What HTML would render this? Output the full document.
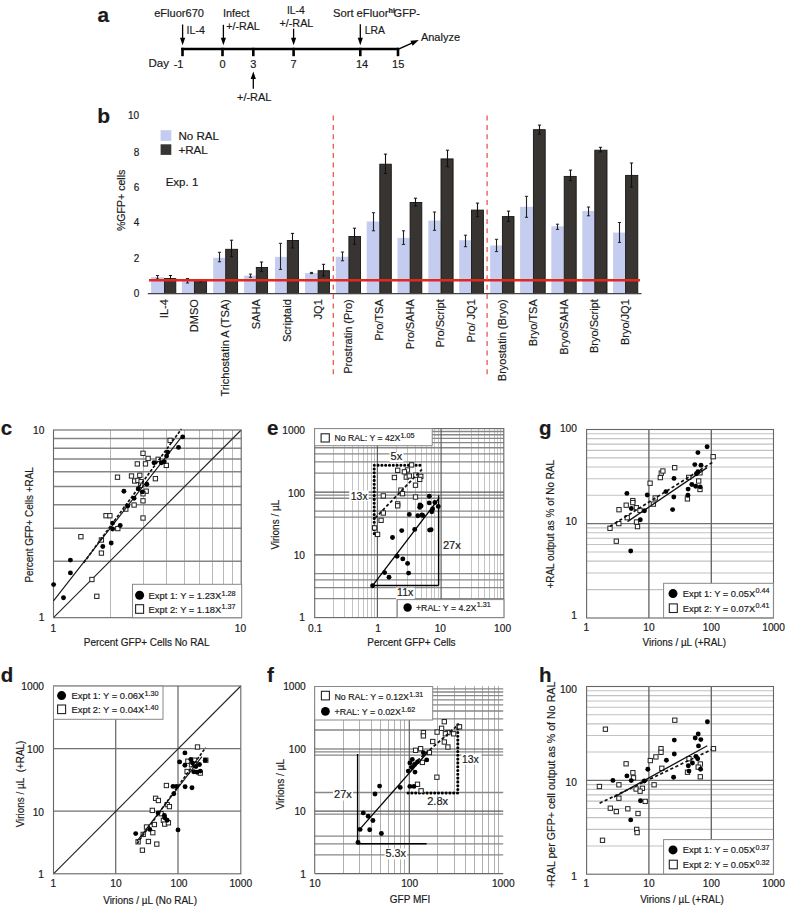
<!DOCTYPE html>
<html><head><meta charset="utf-8"><style>
html,body{margin:0;padding:0;background:#fff;}
svg{display:block;}
text{font-family:"Liberation Sans",sans-serif;fill:#1a1a1a;stroke:#1a1a1a;stroke-width:0.18px;}
</style></head><body>
<svg width="785" height="907" viewBox="0 0 785 907">
<rect x="0" y="0" width="785" height="907" fill="#fff"/>
<text x="97.4" y="21.5" font-size="20.8" font-weight="bold" fill="#000">a</text>
<line x1="181.3" y1="49" x2="399" y2="49" stroke="#000" stroke-width="2.6"/>
<line x1="182.5" y1="47.8" x2="182.5" y2="56.2" stroke="#000" stroke-width="2.6"/>
<line x1="222.5" y1="47.8" x2="222.5" y2="56.2" stroke="#000" stroke-width="2.6"/>
<line x1="253.3" y1="47.8" x2="253.3" y2="56.2" stroke="#000" stroke-width="2.6"/>
<line x1="293.6" y1="47.8" x2="293.6" y2="56.2" stroke="#000" stroke-width="2.6"/>
<line x1="360.3" y1="47.8" x2="360.3" y2="56.2" stroke="#000" stroke-width="2.6"/>
<line x1="398" y1="47.8" x2="398" y2="56.2" stroke="#000" stroke-width="2.6"/>
<line x1="182.6" y1="24.5" x2="182.6" y2="38.8" stroke="#000" stroke-width="1.3"/>
<polygon points="180,37.8 185.2,37.8 182.6,45.3" fill="#000"/>
<line x1="223.4" y1="24.8" x2="223.4" y2="38.8" stroke="#000" stroke-width="1.3"/>
<polygon points="220.8,37.8 226,37.8 223.4,45.3" fill="#000"/>
<line x1="293.6" y1="28.7" x2="293.6" y2="38.8" stroke="#000" stroke-width="1.3"/>
<polygon points="291,37.8 296.2,37.8 293.6,45.3" fill="#000"/>
<line x1="360.3" y1="24.2" x2="360.3" y2="38.8" stroke="#000" stroke-width="1.3"/>
<polygon points="357.7,37.8 362.9,37.8 360.3,45.3" fill="#000"/>
<line x1="253.3" y1="88.7" x2="253.3" y2="78" stroke="#000" stroke-width="1.3"/>
<polygon points="250.7,79 255.9,79 253.3,71.5" fill="#000"/>
<line x1="398.5" y1="49.2" x2="412.42" y2="42.89" stroke="#000" stroke-width="1.4"/>
<polygon points="412.67,45.85 410.36,40.75 418.8,40" fill="#000"/>
<text x="154.2" y="16.8" font-size="11" textLength="49.8" lengthAdjust="spacingAndGlyphs">eFluor670</text>
<text x="186.6" y="33.8" font-size="11" textLength="18.2" lengthAdjust="spacingAndGlyphs">IL-4</text>
<text x="222.9" y="16.6" font-size="11" textLength="26.6" lengthAdjust="spacingAndGlyphs">Infect</text>
<text x="226.3" y="29.6" font-size="11" textLength="33.5" lengthAdjust="spacingAndGlyphs">+/-RAL</text>
<text x="287" y="14" font-size="11" textLength="17.8" lengthAdjust="spacingAndGlyphs">IL-4</text>
<text x="279.4" y="26.8" font-size="11" textLength="34" lengthAdjust="spacingAndGlyphs">+/-RAL</text>
<text x="332.9" y="16.6" font-size="11" textLength="55.6" lengthAdjust="spacingAndGlyphs">Sort eFluor</text>
<text x="388.6" y="12.6" font-size="7.2" font-weight="bold">hi</text>
<text x="393.6" y="16.6" font-size="11" textLength="26.3" lengthAdjust="spacingAndGlyphs">GFP-</text>
<text x="364.7" y="34.1" font-size="11" textLength="20.2" lengthAdjust="spacingAndGlyphs">LRA</text>
<text x="420.9" y="41.4" font-size="11" textLength="39.2" lengthAdjust="spacingAndGlyphs">Analyze</text>
<text x="148.5" y="66.9" font-size="11" textLength="20.5" lengthAdjust="spacingAndGlyphs">Day</text>
<text x="178.6" y="67.5" font-size="11" text-anchor="middle">-1</text>
<text x="222.5" y="67.5" font-size="11" text-anchor="middle">0</text>
<text x="253.3" y="68" font-size="11" text-anchor="middle">3</text>
<text x="293.6" y="67.5" font-size="11" text-anchor="middle">7</text>
<text x="362" y="67.5" font-size="11" text-anchor="middle">14</text>
<text x="398.2" y="67.5" font-size="11" text-anchor="middle">15</text>
<text x="237" y="100.5" font-size="11" textLength="34.4" lengthAdjust="spacingAndGlyphs">+/-RAL</text>
<text x="97.3" y="122.5" font-size="21" font-weight="bold" fill="#000">b</text>
<text x="139.2" y="297.2" font-size="10" text-anchor="end">0</text>
<text x="139.2" y="261.6" font-size="10" text-anchor="end">2</text>
<text x="139.2" y="226" font-size="10" text-anchor="end">4</text>
<text x="139.2" y="190.8" font-size="10" text-anchor="end">6</text>
<text x="139.2" y="155.7" font-size="10" text-anchor="end">8</text>
<text x="139.2" y="119.2" font-size="10" text-anchor="end">10</text>
<text x="124.6" y="200.4" font-size="10.5" text-anchor="middle" textLength="61.4" lengthAdjust="spacingAndGlyphs" transform="rotate(-90 124.6 200.4)">%GFP+ cells</text>
<rect x="151.1" y="277.1" width="13" height="16.5" fill="#c4cdf0" stroke="none" stroke-width="1"/>
<rect x="164.5" y="278.6" width="11.3" height="15" fill="#383432" stroke="#161514" stroke-width="0.9"/>
<rect x="181.9" y="281" width="12.1" height="12.6" fill="#c4cdf0" stroke="none" stroke-width="1"/>
<rect x="194.4" y="280.7" width="12.2" height="12.9" fill="#383432" stroke="#161514" stroke-width="0.9"/>
<rect x="213.2" y="257.8" width="12.1" height="35.8" fill="#c4cdf0" stroke="none" stroke-width="1"/>
<rect x="225.7" y="249.3" width="11.9" height="44.3" fill="#383432" stroke="#161514" stroke-width="0.9"/>
<rect x="244.1" y="275.7" width="11.8" height="17.9" fill="#c4cdf0" stroke="none" stroke-width="1"/>
<rect x="256.3" y="267.5" width="11.3" height="26.1" fill="#383432" stroke="#161514" stroke-width="0.9"/>
<rect x="275" y="256.9" width="11.9" height="36.7" fill="#c4cdf0" stroke="none" stroke-width="1"/>
<rect x="287.3" y="240.5" width="11.2" height="53.1" fill="#383432" stroke="#161514" stroke-width="0.9"/>
<rect x="305" y="273.1" width="12.7" height="20.5" fill="#c4cdf0" stroke="none" stroke-width="1"/>
<rect x="318.1" y="270.7" width="11.3" height="22.9" fill="#383432" stroke="#161514" stroke-width="0.9"/>
<rect x="335.8" y="256.8" width="12.7" height="36.8" fill="#c4cdf0" stroke="none" stroke-width="1"/>
<rect x="348.9" y="236.5" width="11.6" height="57.1" fill="#383432" stroke="#161514" stroke-width="0.9"/>
<rect x="366.7" y="221.5" width="12.7" height="72.1" fill="#c4cdf0" stroke="none" stroke-width="1"/>
<rect x="379.8" y="164.2" width="11.5" height="129.4" fill="#383432" stroke="#161514" stroke-width="0.9"/>
<rect x="397.5" y="237.9" width="12.2" height="55.7" fill="#c4cdf0" stroke="none" stroke-width="1"/>
<rect x="410.1" y="202.5" width="11.7" height="91.1" fill="#383432" stroke="#161514" stroke-width="0.9"/>
<rect x="428.3" y="220.6" width="12.3" height="73" fill="#c4cdf0" stroke="none" stroke-width="1"/>
<rect x="441" y="158.9" width="12.1" height="134.7" fill="#383432" stroke="#161514" stroke-width="0.9"/>
<rect x="459.2" y="240.2" width="11.9" height="53.4" fill="#c4cdf0" stroke="none" stroke-width="1"/>
<rect x="471.5" y="210.1" width="11.9" height="83.5" fill="#383432" stroke="#161514" stroke-width="0.9"/>
<rect x="490.2" y="245.5" width="11.8" height="48.1" fill="#c4cdf0" stroke="none" stroke-width="1"/>
<rect x="502.4" y="216.6" width="11.6" height="77" fill="#383432" stroke="#161514" stroke-width="0.9"/>
<rect x="520.1" y="206.8" width="12.9" height="86.8" fill="#c4cdf0" stroke="none" stroke-width="1"/>
<rect x="533.4" y="129.7" width="11.8" height="163.9" fill="#383432" stroke="#161514" stroke-width="0.9"/>
<rect x="551.3" y="226.3" width="12.5" height="67.3" fill="#c4cdf0" stroke="none" stroke-width="1"/>
<rect x="564.2" y="176.4" width="12" height="117.2" fill="#383432" stroke="#161514" stroke-width="0.9"/>
<rect x="582.3" y="211" width="12.1" height="82.6" fill="#c4cdf0" stroke="none" stroke-width="1"/>
<rect x="594.8" y="150.2" width="12.2" height="143.4" fill="#383432" stroke="#161514" stroke-width="0.9"/>
<rect x="613.1" y="232.6" width="12.1" height="61" fill="#c4cdf0" stroke="none" stroke-width="1"/>
<rect x="625.6" y="175.4" width="12.2" height="118.2" fill="#383432" stroke="#161514" stroke-width="0.9"/>
<line x1="157.5" y1="275.5" x2="157.5" y2="279" stroke="#222" stroke-width="1.1"/>
<line x1="155.9" y1="275.5" x2="159.1" y2="275.5" stroke="#222" stroke-width="1"/>
<line x1="155.9" y1="279" x2="159.1" y2="279" stroke="#222" stroke-width="1"/>
<line x1="170.5" y1="275.5" x2="170.5" y2="280" stroke="#111" stroke-width="1.1"/>
<line x1="168.9" y1="275.5" x2="172.1" y2="275.5" stroke="#111" stroke-width="1"/>
<line x1="168.9" y1="280" x2="172.1" y2="280" stroke="#111" stroke-width="1"/>
<line x1="187.5" y1="278.5" x2="187.5" y2="283" stroke="#222" stroke-width="1.1"/>
<line x1="185.9" y1="278.5" x2="189.1" y2="278.5" stroke="#222" stroke-width="1"/>
<line x1="185.9" y1="283" x2="189.1" y2="283" stroke="#222" stroke-width="1"/>
<line x1="200.5" y1="279.5" x2="200.5" y2="282" stroke="#111" stroke-width="1.1"/>
<line x1="198.9" y1="279.5" x2="202.1" y2="279.5" stroke="#111" stroke-width="1"/>
<line x1="198.9" y1="282" x2="202.1" y2="282" stroke="#111" stroke-width="1"/>
<line x1="219.5" y1="252.3" x2="219.5" y2="261.8" stroke="#222" stroke-width="1.1"/>
<line x1="217.9" y1="252.3" x2="221.1" y2="252.3" stroke="#222" stroke-width="1"/>
<line x1="217.9" y1="261.8" x2="221.1" y2="261.8" stroke="#222" stroke-width="1"/>
<line x1="231.5" y1="240.2" x2="231.5" y2="256.7" stroke="#111" stroke-width="1.1"/>
<line x1="229.9" y1="240.2" x2="233.1" y2="240.2" stroke="#111" stroke-width="1"/>
<line x1="229.9" y1="256.7" x2="233.1" y2="256.7" stroke="#111" stroke-width="1"/>
<line x1="250.5" y1="274.1" x2="250.5" y2="277.3" stroke="#222" stroke-width="1.1"/>
<line x1="248.9" y1="274.1" x2="252.1" y2="274.1" stroke="#222" stroke-width="1"/>
<line x1="248.9" y1="277.3" x2="252.1" y2="277.3" stroke="#222" stroke-width="1"/>
<line x1="261.5" y1="262" x2="261.5" y2="271.6" stroke="#111" stroke-width="1.1"/>
<line x1="259.9" y1="262" x2="263.1" y2="262" stroke="#111" stroke-width="1"/>
<line x1="259.9" y1="271.6" x2="263.1" y2="271.6" stroke="#111" stroke-width="1"/>
<line x1="280.5" y1="243.3" x2="280.5" y2="269.4" stroke="#222" stroke-width="1.1"/>
<line x1="278.9" y1="243.3" x2="282.1" y2="243.3" stroke="#222" stroke-width="1"/>
<line x1="278.9" y1="269.4" x2="282.1" y2="269.4" stroke="#222" stroke-width="1"/>
<line x1="292.5" y1="233.4" x2="292.5" y2="248" stroke="#111" stroke-width="1.1"/>
<line x1="290.9" y1="233.4" x2="294.1" y2="233.4" stroke="#111" stroke-width="1"/>
<line x1="290.9" y1="248" x2="294.1" y2="248" stroke="#111" stroke-width="1"/>
<line x1="311.5" y1="272.4" x2="311.5" y2="273.6" stroke="#222" stroke-width="1.1"/>
<line x1="309.9" y1="272.4" x2="313.1" y2="272.4" stroke="#222" stroke-width="1"/>
<line x1="309.9" y1="273.6" x2="313.1" y2="273.6" stroke="#222" stroke-width="1"/>
<line x1="323.5" y1="264.3" x2="323.5" y2="276" stroke="#111" stroke-width="1.1"/>
<line x1="321.9" y1="264.3" x2="325.1" y2="264.3" stroke="#111" stroke-width="1"/>
<line x1="321.9" y1="276" x2="325.1" y2="276" stroke="#111" stroke-width="1"/>
<line x1="342.5" y1="252" x2="342.5" y2="260.8" stroke="#222" stroke-width="1.1"/>
<line x1="340.9" y1="252" x2="344.1" y2="252" stroke="#222" stroke-width="1"/>
<line x1="340.9" y1="260.8" x2="344.1" y2="260.8" stroke="#222" stroke-width="1"/>
<line x1="354.5" y1="228.2" x2="354.5" y2="244.4" stroke="#111" stroke-width="1.1"/>
<line x1="352.9" y1="228.2" x2="356.1" y2="228.2" stroke="#111" stroke-width="1"/>
<line x1="352.9" y1="244.4" x2="356.1" y2="244.4" stroke="#111" stroke-width="1"/>
<line x1="373.5" y1="212.7" x2="373.5" y2="230.8" stroke="#222" stroke-width="1.1"/>
<line x1="371.9" y1="212.7" x2="375.1" y2="212.7" stroke="#222" stroke-width="1"/>
<line x1="371.9" y1="230.8" x2="375.1" y2="230.8" stroke="#222" stroke-width="1"/>
<line x1="385.5" y1="154.1" x2="385.5" y2="173.5" stroke="#111" stroke-width="1.1"/>
<line x1="383.9" y1="154.1" x2="387.1" y2="154.1" stroke="#111" stroke-width="1"/>
<line x1="383.9" y1="173.5" x2="387.1" y2="173.5" stroke="#111" stroke-width="1"/>
<line x1="403.5" y1="230.8" x2="403.5" y2="244.4" stroke="#222" stroke-width="1.1"/>
<line x1="401.9" y1="230.8" x2="405.1" y2="230.8" stroke="#222" stroke-width="1"/>
<line x1="401.9" y1="244.4" x2="405.1" y2="244.4" stroke="#222" stroke-width="1"/>
<line x1="415.5" y1="198.2" x2="415.5" y2="206.1" stroke="#111" stroke-width="1.1"/>
<line x1="413.9" y1="198.2" x2="417.1" y2="198.2" stroke="#111" stroke-width="1"/>
<line x1="413.9" y1="206.1" x2="417.1" y2="206.1" stroke="#111" stroke-width="1"/>
<line x1="434.5" y1="212" x2="434.5" y2="230.3" stroke="#222" stroke-width="1.1"/>
<line x1="432.9" y1="212" x2="436.1" y2="212" stroke="#222" stroke-width="1"/>
<line x1="432.9" y1="230.3" x2="436.1" y2="230.3" stroke="#222" stroke-width="1"/>
<line x1="447.5" y1="150.2" x2="447.5" y2="166.8" stroke="#111" stroke-width="1.1"/>
<line x1="445.9" y1="150.2" x2="449.1" y2="150.2" stroke="#111" stroke-width="1"/>
<line x1="445.9" y1="166.8" x2="449.1" y2="166.8" stroke="#111" stroke-width="1"/>
<line x1="465.5" y1="235.2" x2="465.5" y2="246.7" stroke="#222" stroke-width="1.1"/>
<line x1="463.9" y1="235.2" x2="467.1" y2="235.2" stroke="#222" stroke-width="1"/>
<line x1="463.9" y1="246.7" x2="467.1" y2="246.7" stroke="#222" stroke-width="1"/>
<line x1="477.5" y1="203.1" x2="477.5" y2="216.7" stroke="#111" stroke-width="1.1"/>
<line x1="475.9" y1="203.1" x2="479.1" y2="203.1" stroke="#111" stroke-width="1"/>
<line x1="475.9" y1="216.7" x2="479.1" y2="216.7" stroke="#111" stroke-width="1"/>
<line x1="496.5" y1="239.3" x2="496.5" y2="251.6" stroke="#222" stroke-width="1.1"/>
<line x1="494.9" y1="239.3" x2="498.1" y2="239.3" stroke="#222" stroke-width="1"/>
<line x1="494.9" y1="251.6" x2="498.1" y2="251.6" stroke="#222" stroke-width="1"/>
<line x1="508.5" y1="211.1" x2="508.5" y2="221.5" stroke="#111" stroke-width="1.1"/>
<line x1="506.9" y1="211.1" x2="510.1" y2="211.1" stroke="#111" stroke-width="1"/>
<line x1="506.9" y1="221.5" x2="510.1" y2="221.5" stroke="#111" stroke-width="1"/>
<line x1="526.5" y1="196.3" x2="526.5" y2="217.3" stroke="#222" stroke-width="1.1"/>
<line x1="524.9" y1="196.3" x2="528.1" y2="196.3" stroke="#222" stroke-width="1"/>
<line x1="524.9" y1="217.3" x2="528.1" y2="217.3" stroke="#222" stroke-width="1"/>
<line x1="539.5" y1="125.1" x2="539.5" y2="134.1" stroke="#111" stroke-width="1.1"/>
<line x1="537.9" y1="125.1" x2="541.1" y2="125.1" stroke="#111" stroke-width="1"/>
<line x1="537.9" y1="134.1" x2="541.1" y2="134.1" stroke="#111" stroke-width="1"/>
<line x1="557.5" y1="224.2" x2="557.5" y2="229.4" stroke="#222" stroke-width="1.1"/>
<line x1="555.9" y1="224.2" x2="559.1" y2="224.2" stroke="#222" stroke-width="1"/>
<line x1="555.9" y1="229.4" x2="559.1" y2="229.4" stroke="#222" stroke-width="1"/>
<line x1="570.5" y1="170.1" x2="570.5" y2="180.6" stroke="#111" stroke-width="1.1"/>
<line x1="568.9" y1="170.1" x2="572.1" y2="170.1" stroke="#111" stroke-width="1"/>
<line x1="568.9" y1="180.6" x2="572.1" y2="180.6" stroke="#111" stroke-width="1"/>
<line x1="588.5" y1="207" x2="588.5" y2="215.8" stroke="#222" stroke-width="1.1"/>
<line x1="586.9" y1="207" x2="590.1" y2="207" stroke="#222" stroke-width="1"/>
<line x1="586.9" y1="215.8" x2="590.1" y2="215.8" stroke="#222" stroke-width="1"/>
<line x1="600.5" y1="147.3" x2="600.5" y2="151.9" stroke="#111" stroke-width="1.1"/>
<line x1="598.9" y1="147.3" x2="602.1" y2="147.3" stroke="#111" stroke-width="1"/>
<line x1="598.9" y1="151.9" x2="602.1" y2="151.9" stroke="#111" stroke-width="1"/>
<line x1="619.5" y1="222.5" x2="619.5" y2="242.4" stroke="#222" stroke-width="1.1"/>
<line x1="617.9" y1="222.5" x2="621.1" y2="222.5" stroke="#222" stroke-width="1"/>
<line x1="617.9" y1="242.4" x2="621.1" y2="242.4" stroke="#222" stroke-width="1"/>
<line x1="631.5" y1="163" x2="631.5" y2="187.1" stroke="#111" stroke-width="1.1"/>
<line x1="629.9" y1="163" x2="633.1" y2="163" stroke="#111" stroke-width="1"/>
<line x1="629.9" y1="187.1" x2="633.1" y2="187.1" stroke="#111" stroke-width="1"/>
<line x1="147.8" y1="293.6" x2="641.5" y2="293.6" stroke="#444" stroke-width="1.1"/>
<line x1="149" y1="280.3" x2="640" y2="280.3" stroke="#e0291c" stroke-width="2.4"/>
<line x1="333.3" y1="115.5" x2="333.3" y2="378" stroke="#ea5a4c" stroke-width="1.3" stroke-dasharray="5 4.4"/>
<line x1="487.1" y1="115.5" x2="487.1" y2="378" stroke="#ea5a4c" stroke-width="1.3" stroke-dasharray="5 4.4"/>
<rect x="160.6" y="130.2" width="10.7" height="10.7" fill="#c4cdf0" stroke="none" stroke-width="1"/>
<rect x="160.6" y="144.3" width="10.7" height="10.6" fill="#383432" stroke="none" stroke-width="1"/>
<text x="178.4" y="139.6" font-size="11.3" textLength="40.6" lengthAdjust="spacingAndGlyphs">No RAL</text>
<text x="178.4" y="153.6" font-size="11.3" textLength="29.4" lengthAdjust="spacingAndGlyphs">+RAL</text>
<text x="165.7" y="186.4" font-size="11.3" textLength="32.6" lengthAdjust="spacingAndGlyphs">Exp. 1</text>
<text x="168" y="299.2" font-size="11" text-anchor="end" transform="rotate(-90 168 299.2)">IL-4</text>
<text x="197.9" y="299.2" font-size="11" text-anchor="end" transform="rotate(-90 197.9 299.2)">DMSO</text>
<text x="229.2" y="299.2" font-size="11" text-anchor="end" transform="rotate(-90 229.2 299.2)">Trichostatin A (TSA)</text>
<text x="259.8" y="299.2" font-size="11" text-anchor="end" transform="rotate(-90 259.8 299.2)">SAHA</text>
<text x="290.8" y="299.2" font-size="11" text-anchor="end" transform="rotate(-90 290.8 299.2)">Scriptaid</text>
<text x="321.6" y="299.2" font-size="11" text-anchor="end" transform="rotate(-90 321.6 299.2)">JQ1</text>
<text x="352.4" y="299.2" font-size="11" text-anchor="end" transform="rotate(-90 352.4 299.2)">Prostratin (Pro)</text>
<text x="383.3" y="299.2" font-size="11" text-anchor="end" transform="rotate(-90 383.3 299.2)">Pro/TSA</text>
<text x="413.6" y="299.2" font-size="11" text-anchor="end" transform="rotate(-90 413.6 299.2)">Pro/SAHA</text>
<text x="444.5" y="299.2" font-size="11" text-anchor="end" transform="rotate(-90 444.5 299.2)">Pro/Script</text>
<text x="475" y="299.2" font-size="11" text-anchor="end" transform="rotate(-90 475 299.2)">Pro/ JQ1</text>
<text x="505.9" y="299.2" font-size="11" text-anchor="end" transform="rotate(-90 505.9 299.2)">Bryostatin (Bryo)</text>
<text x="536.9" y="299.2" font-size="11" text-anchor="end" transform="rotate(-90 536.9 299.2)">Bryo/TSA</text>
<text x="567.7" y="299.2" font-size="11" text-anchor="end" transform="rotate(-90 567.7 299.2)">Bryo/SAHA</text>
<text x="598.3" y="299.2" font-size="11" text-anchor="end" transform="rotate(-90 598.3 299.2)">Bryo/Script</text>
<text x="629.1" y="299.2" font-size="11" text-anchor="end" transform="rotate(-90 629.1 299.2)">Bryo/JQ1</text>
<line x1="110.5" y1="430" x2="110.5" y2="617.7" stroke="#b0b0b0" stroke-width="0.9"/>
<line x1="143.5" y1="430" x2="143.5" y2="617.7" stroke="#b0b0b0" stroke-width="0.9"/>
<line x1="166.5" y1="430" x2="166.5" y2="617.7" stroke="#b0b0b0" stroke-width="0.9"/>
<line x1="184.5" y1="430" x2="184.5" y2="617.7" stroke="#b0b0b0" stroke-width="0.9"/>
<line x1="199.5" y1="430" x2="199.5" y2="617.7" stroke="#b0b0b0" stroke-width="0.9"/>
<line x1="212.5" y1="430" x2="212.5" y2="617.7" stroke="#b0b0b0" stroke-width="0.9"/>
<line x1="223.5" y1="430" x2="223.5" y2="617.7" stroke="#b0b0b0" stroke-width="0.9"/>
<line x1="232.5" y1="430" x2="232.5" y2="617.7" stroke="#b0b0b0" stroke-width="0.9"/>
<line x1="53.5" y1="561.2" x2="241.2" y2="561.2" stroke="#858585" stroke-width="1.5"/>
<line x1="53.5" y1="528.14" x2="241.2" y2="528.14" stroke="#858585" stroke-width="1.5"/>
<line x1="53.5" y1="504.69" x2="241.2" y2="504.69" stroke="#858585" stroke-width="1.5"/>
<line x1="53.5" y1="486.5" x2="241.2" y2="486.5" stroke="#858585" stroke-width="1.5"/>
<line x1="53.5" y1="471.64" x2="241.2" y2="471.64" stroke="#858585" stroke-width="1.5"/>
<line x1="53.5" y1="459.08" x2="241.2" y2="459.08" stroke="#858585" stroke-width="1.5"/>
<line x1="53.5" y1="448.19" x2="241.2" y2="448.19" stroke="#858585" stroke-width="1.5"/>
<line x1="53.5" y1="438.59" x2="241.2" y2="438.59" stroke="#858585" stroke-width="1.5"/>
<line x1="53.5" y1="617.7" x2="241.2" y2="430" stroke="#222" stroke-width="1.1"/>
<rect x="53.5" y="430" width="187.7" height="187.7" fill="none" stroke="#666" stroke-width="1.1"/>
<rect x="140.85" y="451.15" width="4.3" height="4.3" fill="#fff" stroke="#222" stroke-width="1"/>
<rect x="145.95" y="456.25" width="4.3" height="4.3" fill="#fff" stroke="#222" stroke-width="1"/>
<rect x="135.15" y="461.75" width="4.3" height="4.3" fill="#fff" stroke="#222" stroke-width="1"/>
<rect x="143.35" y="461.75" width="4.3" height="4.3" fill="#fff" stroke="#222" stroke-width="1"/>
<rect x="115.35" y="475.05" width="4.3" height="4.3" fill="#fff" stroke="#222" stroke-width="1"/>
<rect x="129.35" y="473.85" width="4.3" height="4.3" fill="#fff" stroke="#222" stroke-width="1"/>
<rect x="137.65" y="473.15" width="4.3" height="4.3" fill="#fff" stroke="#222" stroke-width="1"/>
<rect x="132.55" y="478.85" width="4.3" height="4.3" fill="#fff" stroke="#222" stroke-width="1"/>
<rect x="135.75" y="478.25" width="4.3" height="4.3" fill="#fff" stroke="#222" stroke-width="1"/>
<rect x="138.95" y="479.55" width="4.3" height="4.3" fill="#fff" stroke="#222" stroke-width="1"/>
<rect x="144.05" y="489.05" width="4.3" height="4.3" fill="#fff" stroke="#222" stroke-width="1"/>
<rect x="140.85" y="491.65" width="4.3" height="4.3" fill="#fff" stroke="#222" stroke-width="1"/>
<rect x="140.85" y="498.65" width="4.3" height="4.3" fill="#fff" stroke="#222" stroke-width="1"/>
<rect x="131.95" y="502.85" width="4.3" height="4.3" fill="#fff" stroke="#222" stroke-width="1"/>
<rect x="123.65" y="506.95" width="4.3" height="4.3" fill="#fff" stroke="#222" stroke-width="1"/>
<rect x="103.85" y="513.55" width="4.3" height="4.3" fill="#fff" stroke="#222" stroke-width="1"/>
<rect x="107.75" y="513.55" width="4.3" height="4.3" fill="#fff" stroke="#222" stroke-width="1"/>
<rect x="140.85" y="515.85" width="4.3" height="4.3" fill="#fff" stroke="#222" stroke-width="1"/>
<rect x="167.95" y="438.25" width="4.3" height="4.3" fill="#fff" stroke="#222" stroke-width="1"/>
<rect x="156.05" y="457.15" width="4.3" height="4.3" fill="#fff" stroke="#222" stroke-width="1"/>
<rect x="164.15" y="463.25" width="4.3" height="4.3" fill="#fff" stroke="#222" stroke-width="1"/>
<rect x="153.25" y="476.55" width="4.3" height="4.3" fill="#fff" stroke="#222" stroke-width="1"/>
<rect x="138.55" y="483.15" width="4.3" height="4.3" fill="#fff" stroke="#222" stroke-width="1"/>
<rect x="78.75" y="534.55" width="4.3" height="4.3" fill="#fff" stroke="#222" stroke-width="1"/>
<rect x="99.25" y="537.85" width="4.3" height="4.3" fill="#fff" stroke="#222" stroke-width="1"/>
<rect x="99.25" y="550.95" width="4.3" height="4.3" fill="#fff" stroke="#222" stroke-width="1"/>
<rect x="89.75" y="577.35" width="4.3" height="4.3" fill="#fff" stroke="#222" stroke-width="1"/>
<rect x="94.65" y="594.15" width="4.3" height="4.3" fill="#fff" stroke="#222" stroke-width="1"/>
<rect x="115.65" y="526.45" width="4.3" height="4.3" fill="#fff" stroke="#222" stroke-width="1"/>
<line x1="53.5" y1="600.82" x2="182.21" y2="436.07" stroke="#111" stroke-width="1.1"/>
<line x1="83.79" y1="562.71" x2="181.37" y2="429.03" stroke="#111" stroke-width="1.7" stroke-dasharray="3 1.7"/>
<circle cx="53.6" cy="584.6" r="2.45" fill="#000"/>
<circle cx="63.5" cy="597.7" r="2.45" fill="#000"/>
<circle cx="70.4" cy="560.1" r="2.45" fill="#000"/>
<circle cx="70.4" cy="572.9" r="2.45" fill="#000"/>
<circle cx="102.8" cy="546.5" r="2.45" fill="#000"/>
<circle cx="111.2" cy="543" r="2.45" fill="#000"/>
<circle cx="112.6" cy="529" r="2.45" fill="#000"/>
<circle cx="112.6" cy="523.1" r="2.45" fill="#000"/>
<circle cx="120.2" cy="525.5" r="2.45" fill="#000"/>
<circle cx="123.9" cy="491.2" r="2.45" fill="#000"/>
<circle cx="127.7" cy="505.9" r="2.45" fill="#000"/>
<circle cx="134.1" cy="498.2" r="2.45" fill="#000"/>
<circle cx="138.2" cy="488.7" r="2.45" fill="#000"/>
<circle cx="142.4" cy="491.9" r="2.45" fill="#000"/>
<circle cx="146.8" cy="484.2" r="2.45" fill="#000"/>
<circle cx="154" cy="462.8" r="2.45" fill="#000"/>
<circle cx="161.3" cy="462.8" r="2.45" fill="#000"/>
<circle cx="164.1" cy="461.7" r="2.45" fill="#000"/>
<circle cx="166.6" cy="456.1" r="2.45" fill="#000"/>
<circle cx="167.7" cy="452.3" r="2.45" fill="#000"/>
<circle cx="178.5" cy="447.4" r="2.45" fill="#000"/>
<circle cx="182.7" cy="436.9" r="2.45" fill="#000"/>
<rect x="132.5" y="584.3" width="109.2" height="33.4" fill="#fff" stroke="#888" stroke-width="1"/>
<circle cx="139.6" cy="595.2" r="4.5" fill="#000"/>
<text x="148.6" y="599.1" font-size="9.2" textLength="72.7" lengthAdjust="spacingAndGlyphs">Expt 1: Y = 1.23X</text>
<text x="221.5" y="595.8" font-size="7.2" fill="#333" stroke="none">1.28</text>
<rect x="135.6" y="604.7" width="8" height="8.6" fill="#fff" stroke="#222" stroke-width="1.1"/>
<text x="148.6" y="612.7" font-size="9.2" textLength="72.7" lengthAdjust="spacingAndGlyphs">Expt 2: Y = 1.18X</text>
<text x="221.5" y="609.4" font-size="7.2" fill="#333" stroke="none">1.37</text>
<text x="0.8" y="434.8" font-size="20.5" font-weight="bold" fill="#000">c</text>
<text x="44.4" y="434.4" font-size="10.2" text-anchor="end">10</text>
<text x="44.4" y="620.8" font-size="10.2" text-anchor="end">1</text>
<text x="53.3" y="632.2" font-size="10.2" text-anchor="middle">1</text>
<text x="240.4" y="632.2" font-size="10.2" text-anchor="middle">10</text>
<text x="33.2" y="524.9" font-size="10" text-anchor="middle" textLength="115.4" lengthAdjust="spacingAndGlyphs" transform="rotate(-90 33.2 524.9)">Percent GFP+ Cells +RAL</text>
<text x="83.8" y="646.4" font-size="10" textLength="125.7" lengthAdjust="spacingAndGlyphs">Percent GFP+ Cells No RAL</text>
<line x1="115.7" y1="686" x2="115.7" y2="873.8" stroke="#707070" stroke-width="1.3"/>
<line x1="178" y1="686" x2="178" y2="873.8" stroke="#707070" stroke-width="1.3"/>
<line x1="53.5" y1="811.2" x2="240.8" y2="811.2" stroke="#707070" stroke-width="1.3"/>
<line x1="53.5" y1="748.7" x2="240.8" y2="748.7" stroke="#707070" stroke-width="1.3"/>
<line x1="53.5" y1="873.8" x2="240.8" y2="686" stroke="#222" stroke-width="1.1"/>
<rect x="53.5" y="686" width="187.3" height="187.8" fill="none" stroke="#666" stroke-width="1.1"/>
<rect x="195.35" y="744.85" width="4.3" height="4.3" fill="#fff" stroke="#222" stroke-width="1"/>
<rect x="185.75" y="759.05" width="4.3" height="4.3" fill="#fff" stroke="#222" stroke-width="1"/>
<rect x="192.35" y="758.05" width="4.3" height="4.3" fill="#fff" stroke="#222" stroke-width="1"/>
<rect x="189.35" y="762.65" width="4.3" height="4.3" fill="#fff" stroke="#222" stroke-width="1"/>
<rect x="184.95" y="769.35" width="4.3" height="4.3" fill="#fff" stroke="#222" stroke-width="1"/>
<rect x="198.15" y="770.95" width="4.3" height="4.3" fill="#fff" stroke="#222" stroke-width="1"/>
<rect x="164.25" y="783.35" width="4.3" height="4.3" fill="#fff" stroke="#222" stroke-width="1"/>
<rect x="153.45" y="796.15" width="4.3" height="4.3" fill="#fff" stroke="#222" stroke-width="1"/>
<rect x="156.25" y="798.35" width="4.3" height="4.3" fill="#fff" stroke="#222" stroke-width="1"/>
<rect x="165.05" y="802.45" width="4.3" height="4.3" fill="#fff" stroke="#222" stroke-width="1"/>
<rect x="167.25" y="804.45" width="4.3" height="4.3" fill="#fff" stroke="#222" stroke-width="1"/>
<rect x="150.15" y="808.25" width="4.3" height="4.3" fill="#fff" stroke="#222" stroke-width="1"/>
<rect x="158.95" y="811.55" width="4.3" height="4.3" fill="#fff" stroke="#222" stroke-width="1"/>
<rect x="161.25" y="818.15" width="4.3" height="4.3" fill="#fff" stroke="#222" stroke-width="1"/>
<rect x="162.55" y="821.95" width="4.3" height="4.3" fill="#fff" stroke="#222" stroke-width="1"/>
<rect x="166.25" y="820.65" width="4.3" height="4.3" fill="#fff" stroke="#222" stroke-width="1"/>
<rect x="152.25" y="822.35" width="4.3" height="4.3" fill="#fff" stroke="#222" stroke-width="1"/>
<rect x="144.35" y="824.85" width="4.3" height="4.3" fill="#fff" stroke="#222" stroke-width="1"/>
<rect x="150.65" y="830.55" width="4.3" height="4.3" fill="#fff" stroke="#222" stroke-width="1"/>
<rect x="141.05" y="832.25" width="4.3" height="4.3" fill="#fff" stroke="#222" stroke-width="1"/>
<rect x="203.65" y="758.05" width="4.3" height="4.3" fill="#fff" stroke="#222" stroke-width="1"/>
<rect x="135.95" y="839.65" width="4.3" height="4.3" fill="#fff" stroke="#222" stroke-width="1"/>
<rect x="146.25" y="839.35" width="4.3" height="4.3" fill="#fff" stroke="#222" stroke-width="1"/>
<rect x="154.65" y="841.95" width="4.3" height="4.3" fill="#fff" stroke="#222" stroke-width="1"/>
<rect x="140.25" y="848.05" width="4.3" height="4.3" fill="#fff" stroke="#222" stroke-width="1"/>
<line x1="137.03" y1="841.04" x2="201.88" y2="756.67" stroke="#111" stroke-width="1.1"/>
<line x1="137.03" y1="843.66" x2="205.59" y2="747.63" stroke="#111" stroke-width="1.6" stroke-dasharray="3 1.7"/>
<circle cx="184.9" cy="752.9" r="2.45" fill="#000"/>
<circle cx="179.6" cy="761.9" r="2.45" fill="#000"/>
<circle cx="184.9" cy="765.2" r="2.45" fill="#000"/>
<circle cx="190.9" cy="759.5" r="2.45" fill="#000"/>
<circle cx="192.5" cy="762.9" r="2.45" fill="#000"/>
<circle cx="195.9" cy="766.5" r="2.45" fill="#000"/>
<circle cx="199.5" cy="764.5" r="2.45" fill="#000"/>
<circle cx="205.3" cy="760.2" r="2.45" fill="#000"/>
<circle cx="193.7" cy="771.8" r="2.45" fill="#000"/>
<circle cx="197" cy="772.3" r="2.45" fill="#000"/>
<circle cx="200.3" cy="771.1" r="2.45" fill="#000"/>
<circle cx="173" cy="786.4" r="2.45" fill="#000"/>
<circle cx="176.3" cy="786.4" r="2.45" fill="#000"/>
<circle cx="185.1" cy="786.7" r="2.45" fill="#000"/>
<circle cx="192" cy="787.7" r="2.45" fill="#000"/>
<circle cx="173.8" cy="793.8" r="2.45" fill="#000"/>
<circle cx="158.1" cy="812.9" r="2.45" fill="#000"/>
<circle cx="164.4" cy="815.4" r="2.45" fill="#000"/>
<circle cx="164.7" cy="817.8" r="2.45" fill="#000"/>
<circle cx="167.2" cy="820.3" r="2.45" fill="#000"/>
<circle cx="178" cy="829.9" r="2.45" fill="#000"/>
<circle cx="135.7" cy="833.6" r="2.45" fill="#000"/>
<circle cx="149.8" cy="829.4" r="2.45" fill="#000"/>
<rect x="53.5" y="686.1" width="109.5" height="33.2" fill="#fff" stroke="#888" stroke-width="1"/>
<circle cx="61.6" cy="695.6" r="4.5" fill="#000"/>
<text x="71.5" y="699.4" font-size="9.2" textLength="72.8" lengthAdjust="spacingAndGlyphs">Expt 1: Y = 0.06X</text>
<text x="144.5" y="696.1" font-size="7.2" fill="#333" stroke="none">1.30</text>
<rect x="57.6" y="705" width="8" height="8.6" fill="#fff" stroke="#222" stroke-width="1.1"/>
<text x="71.5" y="713" font-size="9.2" textLength="72.8" lengthAdjust="spacingAndGlyphs">Expt 2: Y = 0.04X</text>
<text x="144.5" y="709.7" font-size="7.2" fill="#333" stroke="none">1.40</text>
<text x="0.8" y="682.3" font-size="20.5" font-weight="bold" fill="#000">d</text>
<text x="44" y="689.9" font-size="10.2" text-anchor="end">1000</text>
<text x="44" y="753.1" font-size="10.2" text-anchor="end">100</text>
<text x="44" y="815.6" font-size="10.2" text-anchor="end">10</text>
<text x="44" y="878" font-size="10.2" text-anchor="end">1</text>
<text x="53.3" y="887.3" font-size="10.2" text-anchor="middle">1</text>
<text x="116" y="887.3" font-size="10.2" text-anchor="middle">10</text>
<text x="179" y="887.3" font-size="10.2" text-anchor="middle">100</text>
<text x="240.8" y="887.3" font-size="10.2" text-anchor="middle">1000</text>
<text x="24.3" y="784" font-size="10" text-anchor="middle" textLength="86.7" lengthAdjust="spacingAndGlyphs" transform="rotate(-90 24.3 784)">Virions / µL  (+RAL)</text>
<text x="103.2" y="903.6" font-size="10" textLength="93.8" lengthAdjust="spacingAndGlyphs">Virions / µL (No RAL)</text>
<line x1="333.5" y1="428.6" x2="333.5" y2="617.6" stroke="#c4c4c4" stroke-width="1"/>
<line x1="344.5" y1="428.6" x2="344.5" y2="617.6" stroke="#c4c4c4" stroke-width="1"/>
<line x1="352.5" y1="428.6" x2="352.5" y2="617.6" stroke="#c4c4c4" stroke-width="1"/>
<line x1="358.5" y1="428.6" x2="358.5" y2="617.6" stroke="#c4c4c4" stroke-width="1"/>
<line x1="363.5" y1="428.6" x2="363.5" y2="617.6" stroke="#c4c4c4" stroke-width="1"/>
<line x1="367.5" y1="428.6" x2="367.5" y2="617.6" stroke="#c4c4c4" stroke-width="1"/>
<line x1="371.5" y1="428.6" x2="371.5" y2="617.6" stroke="#c4c4c4" stroke-width="1"/>
<line x1="374.5" y1="428.6" x2="374.5" y2="617.6" stroke="#c4c4c4" stroke-width="1"/>
<line x1="396.5" y1="428.6" x2="396.5" y2="617.6" stroke="#c4c4c4" stroke-width="1"/>
<line x1="407.5" y1="428.6" x2="407.5" y2="617.6" stroke="#c4c4c4" stroke-width="1"/>
<line x1="415.5" y1="428.6" x2="415.5" y2="617.6" stroke="#c4c4c4" stroke-width="1"/>
<line x1="421.5" y1="428.6" x2="421.5" y2="617.6" stroke="#c4c4c4" stroke-width="1"/>
<line x1="426.5" y1="428.6" x2="426.5" y2="617.6" stroke="#c4c4c4" stroke-width="1"/>
<line x1="431.5" y1="428.6" x2="431.5" y2="617.6" stroke="#c4c4c4" stroke-width="1"/>
<line x1="434.5" y1="428.6" x2="434.5" y2="617.6" stroke="#c4c4c4" stroke-width="1"/>
<line x1="438.5" y1="428.6" x2="438.5" y2="617.6" stroke="#c4c4c4" stroke-width="1"/>
<line x1="459.5" y1="428.6" x2="459.5" y2="617.6" stroke="#c4c4c4" stroke-width="1"/>
<line x1="471.5" y1="428.6" x2="471.5" y2="617.6" stroke="#c4c4c4" stroke-width="1"/>
<line x1="478.5" y1="428.6" x2="478.5" y2="617.6" stroke="#c4c4c4" stroke-width="1"/>
<line x1="484.5" y1="428.6" x2="484.5" y2="617.6" stroke="#c4c4c4" stroke-width="1"/>
<line x1="489.5" y1="428.6" x2="489.5" y2="617.6" stroke="#c4c4c4" stroke-width="1"/>
<line x1="494.5" y1="428.6" x2="494.5" y2="617.6" stroke="#c4c4c4" stroke-width="1"/>
<line x1="497.5" y1="428.6" x2="497.5" y2="617.6" stroke="#c4c4c4" stroke-width="1"/>
<line x1="500.5" y1="428.6" x2="500.5" y2="617.6" stroke="#c4c4c4" stroke-width="1"/>
<line x1="314.7" y1="598.7" x2="503.8" y2="598.7" stroke="#878787" stroke-width="1.3"/>
<line x1="314.7" y1="587.64" x2="503.8" y2="587.64" stroke="#878787" stroke-width="1.3"/>
<line x1="314.7" y1="579.79" x2="503.8" y2="579.79" stroke="#878787" stroke-width="1.3"/>
<line x1="314.7" y1="573.7" x2="503.8" y2="573.7" stroke="#878787" stroke-width="1.3"/>
<line x1="314.7" y1="517.11" x2="503.8" y2="517.11" stroke="#878787" stroke-width="1.3"/>
<line x1="314.7" y1="511.04" x2="503.8" y2="511.04" stroke="#878787" stroke-width="1.3"/>
<line x1="314.7" y1="498.27" x2="503.8" y2="498.27" stroke="#878787" stroke-width="1.3"/>
<line x1="314.7" y1="495.06" x2="503.8" y2="495.06" stroke="#878787" stroke-width="1.3"/>
<line x1="314.7" y1="473.05" x2="503.8" y2="473.05" stroke="#878787" stroke-width="1.3"/>
<line x1="314.7" y1="461.86" x2="503.8" y2="461.86" stroke="#878787" stroke-width="1.3"/>
<line x1="314.7" y1="453.91" x2="503.8" y2="453.91" stroke="#878787" stroke-width="1.3"/>
<line x1="314.7" y1="447.75" x2="503.8" y2="447.75" stroke="#878787" stroke-width="1.3"/>
<line x1="314.7" y1="442.71" x2="503.8" y2="442.71" stroke="#878787" stroke-width="1.3"/>
<line x1="314.7" y1="438.45" x2="503.8" y2="438.45" stroke="#878787" stroke-width="1.3"/>
<line x1="314.7" y1="434.76" x2="503.8" y2="434.76" stroke="#878787" stroke-width="1.3"/>
<line x1="314.7" y1="431.51" x2="503.8" y2="431.51" stroke="#878787" stroke-width="1.3"/>
<line x1="314.7" y1="554.8" x2="503.8" y2="554.8" stroke="#5a5a5a" stroke-width="1.2"/>
<line x1="314.7" y1="492.2" x2="503.8" y2="492.2" stroke="#5a5a5a" stroke-width="1.2"/>
<line x1="377.4" y1="428.6" x2="377.4" y2="617.6" stroke="#5a5a5a" stroke-width="1.15"/>
<line x1="441.1" y1="428.6" x2="441.1" y2="617.6" stroke="#5a5a5a" stroke-width="1.15"/>
<rect x="314.7" y="428.6" width="189.1" height="189" fill="none" stroke="#666" stroke-width="1.1"/>
<path d="M374.2,533.6 L374.2,465.3 L420.5,465.3" fill="none" stroke="#000" stroke-width="3.1" stroke-dasharray="0 3.8" stroke-linecap="round"/>
<rect x="409.45" y="462.75" width="4.3" height="4.3" fill="#fff" stroke="#222" stroke-width="1"/>
<rect x="395.55" y="468.15" width="4.3" height="4.3" fill="#fff" stroke="#222" stroke-width="1"/>
<rect x="405.25" y="467.85" width="4.3" height="4.3" fill="#fff" stroke="#222" stroke-width="1"/>
<rect x="402.25" y="469.65" width="4.3" height="4.3" fill="#fff" stroke="#222" stroke-width="1"/>
<rect x="392.25" y="475.35" width="4.3" height="4.3" fill="#fff" stroke="#222" stroke-width="1"/>
<rect x="404.15" y="474.95" width="4.3" height="4.3" fill="#fff" stroke="#222" stroke-width="1"/>
<rect x="407.15" y="473.85" width="4.3" height="4.3" fill="#fff" stroke="#222" stroke-width="1"/>
<rect x="413.65" y="473.05" width="4.3" height="4.3" fill="#fff" stroke="#222" stroke-width="1"/>
<rect x="418.65" y="474.25" width="4.3" height="4.3" fill="#fff" stroke="#222" stroke-width="1"/>
<rect x="417.55" y="477.25" width="4.3" height="4.3" fill="#fff" stroke="#222" stroke-width="1"/>
<rect x="413.35" y="483.05" width="4.3" height="4.3" fill="#fff" stroke="#222" stroke-width="1"/>
<rect x="398.75" y="487.95" width="4.3" height="4.3" fill="#fff" stroke="#222" stroke-width="1"/>
<rect x="400.35" y="491.55" width="4.3" height="4.3" fill="#fff" stroke="#222" stroke-width="1"/>
<rect x="381.15" y="493.75" width="4.3" height="4.3" fill="#fff" stroke="#222" stroke-width="1"/>
<rect x="413.35" y="494.85" width="4.3" height="4.3" fill="#fff" stroke="#222" stroke-width="1"/>
<rect x="395.55" y="501.75" width="4.3" height="4.3" fill="#fff" stroke="#222" stroke-width="1"/>
<rect x="395.55" y="503.65" width="4.3" height="4.3" fill="#fff" stroke="#222" stroke-width="1"/>
<rect x="381.15" y="510.85" width="4.3" height="4.3" fill="#fff" stroke="#222" stroke-width="1"/>
<rect x="378.95" y="518.15" width="4.3" height="4.3" fill="#fff" stroke="#222" stroke-width="1"/>
<rect x="372.45" y="525.75" width="4.3" height="4.3" fill="#fff" stroke="#222" stroke-width="1"/>
<rect x="375.45" y="532.25" width="4.3" height="4.3" fill="#fff" stroke="#222" stroke-width="1"/>
<line x1="375.13" y1="518.16" x2="421.92" y2="469.48" stroke="#111" stroke-width="1.8" stroke-dasharray="3.2 2.2"/>
<line x1="372.6" y1="585.5" x2="438.6" y2="585.5" stroke="#000" stroke-width="1.4"/>
<line x1="438.6" y1="585.5" x2="438.6" y2="495.3" stroke="#000" stroke-width="1.4"/>
<line x1="372.6" y1="585.6" x2="438.6" y2="498.9" stroke="#000" stroke-width="1.3"/>
<circle cx="420" cy="505" r="2.45" fill="#000"/>
<circle cx="419.7" cy="507.3" r="2.45" fill="#000"/>
<circle cx="409.3" cy="514.4" r="2.45" fill="#000"/>
<circle cx="417.8" cy="515.7" r="2.45" fill="#000"/>
<circle cx="422" cy="514.9" r="2.45" fill="#000"/>
<circle cx="401.7" cy="530.6" r="2.45" fill="#000"/>
<circle cx="392.5" cy="537.5" r="2.45" fill="#000"/>
<circle cx="414.7" cy="529.4" r="2.45" fill="#000"/>
<circle cx="397.1" cy="556.2" r="2.45" fill="#000"/>
<circle cx="402.8" cy="558.9" r="2.45" fill="#000"/>
<circle cx="429.3" cy="496.2" r="2.45" fill="#000"/>
<circle cx="429.2" cy="502.9" r="2.45" fill="#000"/>
<circle cx="434.9" cy="502.5" r="2.45" fill="#000"/>
<circle cx="438.3" cy="506.4" r="2.45" fill="#000"/>
<circle cx="432.6" cy="509" r="2.45" fill="#000"/>
<circle cx="431.8" cy="511.7" r="2.45" fill="#000"/>
<circle cx="421.1" cy="506" r="2.45" fill="#000"/>
<circle cx="422.7" cy="515.5" r="2.45" fill="#000"/>
<circle cx="431.1" cy="529.7" r="2.45" fill="#000"/>
<circle cx="429.6" cy="530.1" r="2.45" fill="#000"/>
<circle cx="407.6" cy="563.4" r="2.45" fill="#000"/>
<circle cx="408.6" cy="573.1" r="2.45" fill="#000"/>
<circle cx="384.6" cy="572.6" r="2.45" fill="#000"/>
<circle cx="389" cy="577.2" r="2.45" fill="#000"/>
<circle cx="372.6" cy="585.7" r="2.45" fill="#000"/>
<rect x="389.5" y="452" width="14" height="10" fill="#fff" stroke="none" stroke-width="1"/>
<text x="390.6" y="460.3" font-size="11" textLength="11.5" lengthAdjust="spacingAndGlyphs">5x</text>
<rect x="349.2" y="490.5" width="19.4" height="10.5" fill="#fff" stroke="none" stroke-width="1"/>
<text x="350.8" y="499.7" font-size="11" textLength="16.8" lengthAdjust="spacingAndGlyphs">13x</text>
<text x="442.9" y="548.7" font-size="11" textLength="18" lengthAdjust="spacingAndGlyphs">27x</text>
<rect x="396.1" y="587.6" width="18.4" height="12" fill="#fff" stroke="none" stroke-width="1"/>
<text x="397.1" y="596.4" font-size="11" textLength="16.3" lengthAdjust="spacingAndGlyphs">11x</text>
<rect x="314.6" y="428.6" width="117.6" height="17.1" fill="#fff" stroke="#888" stroke-width="1"/>
<rect x="321.1" y="433.8" width="8.2" height="8.2" fill="#fff" stroke="#222" stroke-width="1.1"/>
<text x="334.5" y="441.2" font-size="9.2" textLength="65.8" lengthAdjust="spacingAndGlyphs">No RAL: Y = 42X</text>
<text x="400.6" y="437.9" font-size="7.2" fill="#333" stroke="none">1.05</text>
<rect x="397.3" y="599.6" width="106.6" height="17.9" fill="#fff" stroke="#888" stroke-width="1"/>
<circle cx="407.6" cy="607.5" r="4.2" fill="#000"/>
<text x="416" y="610.6" font-size="9.2" textLength="60.4" lengthAdjust="spacingAndGlyphs">+RAL: Y = 4.2X</text>
<text x="476.7" y="607.3" font-size="7.2" fill="#333" stroke="none">1.31</text>
<text x="267" y="435.2" font-size="20.5" font-weight="bold" fill="#000">e</text>
<text x="305" y="434.1" font-size="10.2" text-anchor="end">1000</text>
<text x="305" y="496.5" font-size="10.2" text-anchor="end">100</text>
<text x="305" y="558.8" font-size="10.2" text-anchor="end">10</text>
<text x="305" y="621" font-size="10.2" text-anchor="end">1</text>
<text x="315.2" y="632.4" font-size="10.2" text-anchor="middle">0.1</text>
<text x="378.2" y="632.4" font-size="10.2" text-anchor="middle">1</text>
<text x="440.3" y="632.4" font-size="10.2" text-anchor="middle">10</text>
<text x="502.6" y="632.4" font-size="10.2" text-anchor="middle">100</text>
<text x="278.8" y="524.7" font-size="10" text-anchor="middle" textLength="49.8" lengthAdjust="spacingAndGlyphs" transform="rotate(-90 278.8 524.7)">Virions / µL</text>
<text x="367.3" y="645.8" font-size="10" textLength="88.3" lengthAdjust="spacingAndGlyphs">Percent GFP+ Cells</text>
<line x1="343.5" y1="685.9" x2="343.5" y2="873.6" stroke="#b0b0b0" stroke-width="1"/>
<line x1="359.5" y1="685.9" x2="359.5" y2="873.6" stroke="#b0b0b0" stroke-width="1"/>
<line x1="371.5" y1="685.9" x2="371.5" y2="873.6" stroke="#b0b0b0" stroke-width="1"/>
<line x1="380.5" y1="685.9" x2="380.5" y2="873.6" stroke="#b0b0b0" stroke-width="1"/>
<line x1="388.5" y1="685.9" x2="388.5" y2="873.6" stroke="#b0b0b0" stroke-width="1"/>
<line x1="394.5" y1="685.9" x2="394.5" y2="873.6" stroke="#b0b0b0" stroke-width="1"/>
<line x1="400.5" y1="685.9" x2="400.5" y2="873.6" stroke="#b0b0b0" stroke-width="1"/>
<line x1="404.5" y1="685.9" x2="404.5" y2="873.6" stroke="#b0b0b0" stroke-width="1"/>
<line x1="437.5" y1="685.9" x2="437.5" y2="873.6" stroke="#b0b0b0" stroke-width="1"/>
<line x1="454.5" y1="685.9" x2="454.5" y2="873.6" stroke="#b0b0b0" stroke-width="1"/>
<line x1="465.5" y1="685.9" x2="465.5" y2="873.6" stroke="#b0b0b0" stroke-width="1"/>
<line x1="474.5" y1="685.9" x2="474.5" y2="873.6" stroke="#b0b0b0" stroke-width="1"/>
<line x1="482.5" y1="685.9" x2="482.5" y2="873.6" stroke="#b0b0b0" stroke-width="1"/>
<line x1="488.5" y1="685.9" x2="488.5" y2="873.6" stroke="#b0b0b0" stroke-width="1"/>
<line x1="494.5" y1="685.9" x2="494.5" y2="873.6" stroke="#b0b0b0" stroke-width="1"/>
<line x1="498.5" y1="685.9" x2="498.5" y2="873.6" stroke="#b0b0b0" stroke-width="1"/>
<line x1="314.7" y1="854.82" x2="503.2" y2="854.82" stroke="#878787" stroke-width="1.3"/>
<line x1="314.7" y1="843.83" x2="503.2" y2="843.83" stroke="#878787" stroke-width="1.3"/>
<line x1="314.7" y1="836.03" x2="503.2" y2="836.03" stroke="#878787" stroke-width="1.3"/>
<line x1="314.7" y1="814.06" x2="503.2" y2="814.06" stroke="#878787" stroke-width="1.3"/>
<line x1="314.7" y1="792.48" x2="503.2" y2="792.48" stroke="#878787" stroke-width="1.3"/>
<line x1="314.7" y1="755.03" x2="503.2" y2="755.03" stroke="#878787" stroke-width="1.3"/>
<line x1="314.7" y1="751.85" x2="503.2" y2="751.85" stroke="#878787" stroke-width="1.3"/>
<line x1="314.7" y1="730.01" x2="503.2" y2="730.01" stroke="#878787" stroke-width="1.3"/>
<line x1="314.7" y1="718.89" x2="503.2" y2="718.89" stroke="#878787" stroke-width="1.3"/>
<line x1="314.7" y1="711.01" x2="503.2" y2="711.01" stroke="#878787" stroke-width="1.3"/>
<line x1="314.7" y1="704.89" x2="503.2" y2="704.89" stroke="#878787" stroke-width="1.3"/>
<line x1="314.7" y1="699.9" x2="503.2" y2="699.9" stroke="#878787" stroke-width="1.3"/>
<line x1="314.7" y1="695.67" x2="503.2" y2="695.67" stroke="#878787" stroke-width="1.3"/>
<line x1="314.7" y1="692.02" x2="503.2" y2="692.02" stroke="#878787" stroke-width="1.3"/>
<line x1="314.7" y1="688.79" x2="503.2" y2="688.79" stroke="#878787" stroke-width="1.3"/>
<line x1="314.7" y1="811.2" x2="503.2" y2="811.2" stroke="#5a5a5a" stroke-width="1.2"/>
<line x1="314.7" y1="749" x2="503.2" y2="749" stroke="#5a5a5a" stroke-width="1.2"/>
<line x1="409.3" y1="685.9" x2="409.3" y2="873.6" stroke="#5a5a5a" stroke-width="1.15"/>
<line x1="314.7" y1="685.9" x2="314.7" y2="873.6" stroke="#666" stroke-width="1.1"/>
<line x1="314.7" y1="873.6" x2="503.2" y2="873.6" stroke="#666" stroke-width="1.1"/>
<path d="M408.1,793 L457.8,793 L457.8,721.3" fill="none" stroke="#000" stroke-width="3.1" stroke-dasharray="0 3.8" stroke-linecap="round"/>
<rect x="442.15" y="719.55" width="4.3" height="4.3" fill="#fff" stroke="#222" stroke-width="1"/>
<rect x="457.35" y="724.65" width="4.3" height="4.3" fill="#fff" stroke="#222" stroke-width="1"/>
<rect x="439.45" y="726.15" width="4.3" height="4.3" fill="#fff" stroke="#222" stroke-width="1"/>
<rect x="434.95" y="729.95" width="4.3" height="4.3" fill="#fff" stroke="#222" stroke-width="1"/>
<rect x="445.75" y="730.45" width="4.3" height="4.3" fill="#fff" stroke="#222" stroke-width="1"/>
<rect x="451.55" y="731.65" width="4.3" height="4.3" fill="#fff" stroke="#222" stroke-width="1"/>
<rect x="443.25" y="731.65" width="4.3" height="4.3" fill="#fff" stroke="#222" stroke-width="1"/>
<rect x="421.25" y="730.45" width="4.3" height="4.3" fill="#fff" stroke="#222" stroke-width="1"/>
<rect x="421.25" y="733.75" width="4.3" height="4.3" fill="#fff" stroke="#222" stroke-width="1"/>
<rect x="430.55" y="739.35" width="4.3" height="4.3" fill="#fff" stroke="#222" stroke-width="1"/>
<rect x="442.15" y="739.85" width="4.3" height="4.3" fill="#fff" stroke="#222" stroke-width="1"/>
<rect x="445.75" y="744.85" width="4.3" height="4.3" fill="#fff" stroke="#222" stroke-width="1"/>
<rect x="413.45" y="748.15" width="4.3" height="4.3" fill="#fff" stroke="#222" stroke-width="1"/>
<rect x="418.45" y="746.55" width="4.3" height="4.3" fill="#fff" stroke="#222" stroke-width="1"/>
<rect x="427.25" y="750.35" width="4.3" height="4.3" fill="#fff" stroke="#222" stroke-width="1"/>
<rect x="420.25" y="760.25" width="4.3" height="4.3" fill="#fff" stroke="#222" stroke-width="1"/>
<rect x="434.75" y="775.05" width="4.3" height="4.3" fill="#fff" stroke="#222" stroke-width="1"/>
<rect x="415.35" y="782.15" width="4.3" height="4.3" fill="#fff" stroke="#222" stroke-width="1"/>
<rect x="418.95" y="788.65" width="4.3" height="4.3" fill="#fff" stroke="#222" stroke-width="1"/>
<line x1="409.3" y1="767.71" x2="459.21" y2="724.05" stroke="#111" stroke-width="1.8" stroke-dasharray="3.2 2.2"/>
<line x1="357.6" y1="754" x2="357.6" y2="843.7" stroke="#000" stroke-width="1.4"/>
<line x1="357.6" y1="843.7" x2="426.6" y2="843.7" stroke="#000" stroke-width="1.4"/>
<line x1="361.4" y1="827.4" x2="427" y2="753" stroke="#000" stroke-width="1.3"/>
<circle cx="423.4" cy="752.8" r="2.45" fill="#000"/>
<circle cx="412.3" cy="759.4" r="2.45" fill="#000"/>
<circle cx="409.9" cy="762.9" r="2.45" fill="#000"/>
<circle cx="414.5" cy="764.5" r="2.45" fill="#000"/>
<circle cx="417.5" cy="761.9" r="2.45" fill="#000"/>
<circle cx="426.7" cy="759.9" r="2.45" fill="#000"/>
<circle cx="408.3" cy="771.1" r="2.45" fill="#000"/>
<circle cx="415" cy="772.1" r="2.45" fill="#000"/>
<circle cx="411.9" cy="767.5" r="2.45" fill="#000"/>
<circle cx="400.2" cy="787.4" r="2.45" fill="#000"/>
<circle cx="409.9" cy="786.4" r="2.45" fill="#000"/>
<circle cx="414" cy="786.4" r="2.45" fill="#000"/>
<circle cx="379.6" cy="786.1" r="2.45" fill="#000"/>
<circle cx="375" cy="794" r="2.45" fill="#000"/>
<circle cx="363.3" cy="812.9" r="2.45" fill="#000"/>
<circle cx="368.2" cy="816.3" r="2.45" fill="#000"/>
<circle cx="372.9" cy="820.5" r="2.45" fill="#000"/>
<circle cx="360.1" cy="829.4" r="2.45" fill="#000"/>
<circle cx="369.7" cy="829.7" r="2.45" fill="#000"/>
<circle cx="381.4" cy="833.5" r="2.45" fill="#000"/>
<circle cx="358" cy="842.4" r="2.45" fill="#000"/>
<rect x="333" y="789.5" width="20" height="11" fill="#fff" stroke="none" stroke-width="1"/>
<text x="334" y="798.2" font-size="11" textLength="17.8" lengthAdjust="spacingAndGlyphs">27x</text>
<rect x="384.6" y="848.5" width="22.5" height="11" fill="#fff" stroke="none" stroke-width="1"/>
<text x="385.6" y="857.1" font-size="11" textLength="20.4" lengthAdjust="spacingAndGlyphs">5.3x</text>
<text x="427.2" y="805.2" font-size="11" textLength="20.9" lengthAdjust="spacingAndGlyphs">2.8x</text>
<rect x="461.4" y="753.8" width="19.9" height="11" fill="#fff" stroke="none" stroke-width="1"/>
<text x="461.9" y="762.6" font-size="11" textLength="16.8" lengthAdjust="spacingAndGlyphs">13x</text>
<rect x="314.7" y="686.5" width="118" height="33.5" fill="#fff" stroke="#888" stroke-width="1"/>
<rect x="321.4" y="691.3" width="8" height="8.6" fill="#fff" stroke="#222" stroke-width="1.1"/>
<text x="334.5" y="700" font-size="9.2" textLength="74.5" lengthAdjust="spacingAndGlyphs">No RAL: Y = 0.12X</text>
<text x="409.3" y="696.6" font-size="7.2" fill="#333" stroke="none">1.31</text>
<circle cx="325.4" cy="711.3" r="4.4" fill="#000"/>
<text x="334.5" y="715" font-size="9.2" textLength="66.5" lengthAdjust="spacingAndGlyphs">+RAL: Y = 0.02X</text>
<text x="401.3" y="711.6" font-size="7.2" fill="#333" stroke="none">1.62</text>
<text x="267" y="682.3" font-size="20.5" font-weight="bold" fill="#000">f</text>
<text x="305.8" y="690.2" font-size="10.2" text-anchor="end">1000</text>
<text x="305.8" y="752.5" font-size="10.2" text-anchor="end">100</text>
<text x="305.8" y="815.3" font-size="10.2" text-anchor="end">10</text>
<text x="305.8" y="878" font-size="10.2" text-anchor="end">1</text>
<text x="314.9" y="887.2" font-size="10.2" text-anchor="middle">10</text>
<text x="409.7" y="887.2" font-size="10.2" text-anchor="middle">100</text>
<text x="503.3" y="887.2" font-size="10.2" text-anchor="middle">1000</text>
<text x="284.5" y="784.2" font-size="10" text-anchor="middle" textLength="50.5" lengthAdjust="spacingAndGlyphs" transform="rotate(-90 284.5 784.2)">Virions / µL</text>
<text x="410" y="903.3" font-size="10" text-anchor="middle">GFP MFI</text>
<line x1="586.6" y1="589.58" x2="773.5" y2="589.58" stroke="#c2c2c2" stroke-width="1.1"/>
<line x1="586.6" y1="572.96" x2="773.5" y2="572.96" stroke="#c2c2c2" stroke-width="1.1"/>
<line x1="586.6" y1="561.17" x2="773.5" y2="561.17" stroke="#c2c2c2" stroke-width="1.1"/>
<line x1="586.6" y1="552.02" x2="773.5" y2="552.02" stroke="#c2c2c2" stroke-width="1.1"/>
<line x1="586.6" y1="544.54" x2="773.5" y2="544.54" stroke="#c2c2c2" stroke-width="1.1"/>
<line x1="586.6" y1="538.22" x2="773.5" y2="538.22" stroke="#c2c2c2" stroke-width="1.1"/>
<line x1="586.6" y1="532.75" x2="773.5" y2="532.75" stroke="#c2c2c2" stroke-width="1.1"/>
<line x1="586.6" y1="527.92" x2="773.5" y2="527.92" stroke="#c2c2c2" stroke-width="1.1"/>
<line x1="586.6" y1="495.27" x2="773.5" y2="495.27" stroke="#c2c2c2" stroke-width="1.1"/>
<line x1="586.6" y1="478.7" x2="773.5" y2="478.7" stroke="#c2c2c2" stroke-width="1.1"/>
<line x1="586.6" y1="466.95" x2="773.5" y2="466.95" stroke="#c2c2c2" stroke-width="1.1"/>
<line x1="586.6" y1="457.83" x2="773.5" y2="457.83" stroke="#c2c2c2" stroke-width="1.1"/>
<line x1="586.6" y1="450.38" x2="773.5" y2="450.38" stroke="#c2c2c2" stroke-width="1.1"/>
<line x1="586.6" y1="444.08" x2="773.5" y2="444.08" stroke="#c2c2c2" stroke-width="1.1"/>
<line x1="586.6" y1="438.62" x2="773.5" y2="438.62" stroke="#c2c2c2" stroke-width="1.1"/>
<line x1="586.6" y1="433.81" x2="773.5" y2="433.81" stroke="#c2c2c2" stroke-width="1.1"/>
<line x1="586.6" y1="523.6" x2="773.5" y2="523.6" stroke="#707070" stroke-width="1.3"/>
<line x1="648.9" y1="429.5" x2="648.9" y2="618" stroke="#606060" stroke-width="1.3"/>
<line x1="711.3" y1="429.5" x2="711.3" y2="618" stroke="#606060" stroke-width="1.3"/>
<rect x="586.6" y="429.5" width="186.9" height="188.5" fill="none" stroke="#666" stroke-width="1.1"/>
<rect x="607.85" y="526.15" width="4.3" height="4.3" fill="#fff" stroke="#222" stroke-width="1"/>
<rect x="616.65" y="521.45" width="4.3" height="4.3" fill="#fff" stroke="#222" stroke-width="1"/>
<rect x="614.15" y="539.05" width="4.3" height="4.3" fill="#fff" stroke="#222" stroke-width="1"/>
<rect x="635.35" y="524.45" width="4.3" height="4.3" fill="#fff" stroke="#222" stroke-width="1"/>
<rect x="634.35" y="519.85" width="4.3" height="4.3" fill="#fff" stroke="#222" stroke-width="1"/>
<rect x="647.95" y="481.05" width="4.3" height="4.3" fill="#fff" stroke="#222" stroke-width="1"/>
<rect x="658.15" y="475.45" width="4.3" height="4.3" fill="#fff" stroke="#222" stroke-width="1"/>
<rect x="659.15" y="470.95" width="4.3" height="4.3" fill="#fff" stroke="#222" stroke-width="1"/>
<rect x="660.75" y="468.85" width="4.3" height="4.3" fill="#fff" stroke="#222" stroke-width="1"/>
<rect x="630.65" y="498.45" width="4.3" height="4.3" fill="#fff" stroke="#222" stroke-width="1"/>
<rect x="630.65" y="500.45" width="4.3" height="4.3" fill="#fff" stroke="#222" stroke-width="1"/>
<rect x="624.05" y="503.05" width="4.3" height="4.3" fill="#fff" stroke="#222" stroke-width="1"/>
<rect x="616.85" y="507.55" width="4.3" height="4.3" fill="#fff" stroke="#222" stroke-width="1"/>
<rect x="634.25" y="505.55" width="4.3" height="4.3" fill="#fff" stroke="#222" stroke-width="1"/>
<rect x="637.85" y="508.15" width="4.3" height="4.3" fill="#fff" stroke="#222" stroke-width="1"/>
<rect x="625.05" y="515.55" width="4.3" height="4.3" fill="#fff" stroke="#222" stroke-width="1"/>
<rect x="653.05" y="495.85" width="4.3" height="4.3" fill="#fff" stroke="#222" stroke-width="1"/>
<rect x="651.25" y="501.95" width="4.3" height="4.3" fill="#fff" stroke="#222" stroke-width="1"/>
<rect x="711.05" y="454.55" width="4.3" height="4.3" fill="#fff" stroke="#222" stroke-width="1"/>
<rect x="672.55" y="465.55" width="4.3" height="4.3" fill="#fff" stroke="#222" stroke-width="1"/>
<rect x="686.55" y="475.25" width="4.3" height="4.3" fill="#fff" stroke="#222" stroke-width="1"/>
<rect x="697.85" y="470.65" width="4.3" height="4.3" fill="#fff" stroke="#222" stroke-width="1"/>
<rect x="696.55" y="478.85" width="4.3" height="4.3" fill="#fff" stroke="#222" stroke-width="1"/>
<rect x="697.85" y="487.35" width="4.3" height="4.3" fill="#fff" stroke="#222" stroke-width="1"/>
<rect x="685.25" y="496.75" width="4.3" height="4.3" fill="#fff" stroke="#222" stroke-width="1"/>
<line x1="627.5" y1="521.6" x2="707.1" y2="467.6" stroke="#111" stroke-width="1.3"/>
<line x1="609.9" y1="526.5" x2="712.5" y2="462.3" stroke="#111" stroke-width="1.7" stroke-dasharray="3.2 2.4"/>
<circle cx="626.9" cy="493.4" r="2.45" fill="#000"/>
<circle cx="647.3" cy="495" r="2.45" fill="#000"/>
<circle cx="631.3" cy="508.5" r="2.45" fill="#000"/>
<circle cx="644.5" cy="510.8" r="2.45" fill="#000"/>
<circle cx="640.3" cy="519.7" r="2.45" fill="#000"/>
<circle cx="665.9" cy="491.6" r="2.45" fill="#000"/>
<circle cx="630.7" cy="551" r="2.45" fill="#000"/>
<circle cx="707.1" cy="446.8" r="2.45" fill="#000"/>
<circle cx="697.9" cy="452.6" r="2.45" fill="#000"/>
<circle cx="694.8" cy="464.6" r="2.45" fill="#000"/>
<circle cx="701" cy="465.2" r="2.45" fill="#000"/>
<circle cx="697.9" cy="471.8" r="2.45" fill="#000"/>
<circle cx="696.4" cy="473.8" r="2.45" fill="#000"/>
<circle cx="674" cy="478.4" r="2.45" fill="#000"/>
<circle cx="691.8" cy="484.5" r="2.45" fill="#000"/>
<circle cx="695.7" cy="486.2" r="2.45" fill="#000"/>
<circle cx="700.2" cy="486.9" r="2.45" fill="#000"/>
<circle cx="688.1" cy="489.1" r="2.45" fill="#000"/>
<circle cx="673.8" cy="497" r="2.45" fill="#000"/>
<circle cx="687.9" cy="495.3" r="2.45" fill="#000"/>
<circle cx="672.6" cy="509.6" r="2.45" fill="#000"/>
<rect x="663.6" y="583.3" width="109.8" height="34.4" fill="#fff" stroke="#888" stroke-width="1"/>
<circle cx="673" cy="593.6" r="4.5" fill="#000"/>
<text x="682.8" y="596.6" font-size="9.2" textLength="72.4" lengthAdjust="spacingAndGlyphs">Expt 1: Y = 0.05X</text>
<text x="755.4" y="593.3" font-size="7.2" fill="#333" stroke="none">0.44</text>
<rect x="669.3" y="603.9" width="8" height="8.6" fill="#fff" stroke="#222" stroke-width="1.1"/>
<text x="682.8" y="611.7" font-size="9.2" textLength="72.4" lengthAdjust="spacingAndGlyphs">Expt 2: Y = 0.07X</text>
<text x="755.4" y="608.4" font-size="7.2" fill="#333" stroke="none">0.41</text>
<text x="539" y="434.7" font-size="20.5" font-weight="bold" fill="#000">g</text>
<text x="576.9" y="431.9" font-size="10.2" text-anchor="end">100</text>
<text x="576.9" y="524.7" font-size="10.2" text-anchor="end">10</text>
<text x="576.9" y="618.7" font-size="10.2" text-anchor="end">1</text>
<text x="586.4" y="630.5" font-size="10.2" text-anchor="middle">1</text>
<text x="648.9" y="630.5" font-size="10.2" text-anchor="middle">10</text>
<text x="711.3" y="630.5" font-size="10.2" text-anchor="middle">100</text>
<text x="773.6" y="630.5" font-size="10.2" text-anchor="middle">1000</text>
<text x="553.5" y="524.25" font-size="10" text-anchor="middle" textLength="128.6" lengthAdjust="spacingAndGlyphs" transform="rotate(-90 553.5 524.25)">+RAL output as % of No RAL</text>
<text x="642.6" y="645.6" font-size="10" textLength="83.5" lengthAdjust="spacingAndGlyphs">Virions / µL (+RAL)</text>
<line x1="586.6" y1="845.93" x2="773.5" y2="845.93" stroke="#c2c2c2" stroke-width="1.1"/>
<line x1="586.6" y1="829.4" x2="773.5" y2="829.4" stroke="#c2c2c2" stroke-width="1.1"/>
<line x1="586.6" y1="817.67" x2="773.5" y2="817.67" stroke="#c2c2c2" stroke-width="1.1"/>
<line x1="586.6" y1="808.57" x2="773.5" y2="808.57" stroke="#c2c2c2" stroke-width="1.1"/>
<line x1="586.6" y1="801.13" x2="773.5" y2="801.13" stroke="#c2c2c2" stroke-width="1.1"/>
<line x1="586.6" y1="794.85" x2="773.5" y2="794.85" stroke="#c2c2c2" stroke-width="1.1"/>
<line x1="586.6" y1="789.4" x2="773.5" y2="789.4" stroke="#c2c2c2" stroke-width="1.1"/>
<line x1="586.6" y1="784.6" x2="773.5" y2="784.6" stroke="#c2c2c2" stroke-width="1.1"/>
<line x1="586.6" y1="752.06" x2="773.5" y2="752.06" stroke="#c2c2c2" stroke-width="1.1"/>
<line x1="586.6" y1="735.55" x2="773.5" y2="735.55" stroke="#c2c2c2" stroke-width="1.1"/>
<line x1="586.6" y1="723.83" x2="773.5" y2="723.83" stroke="#c2c2c2" stroke-width="1.1"/>
<line x1="586.6" y1="714.74" x2="773.5" y2="714.74" stroke="#c2c2c2" stroke-width="1.1"/>
<line x1="586.6" y1="707.31" x2="773.5" y2="707.31" stroke="#c2c2c2" stroke-width="1.1"/>
<line x1="586.6" y1="701.03" x2="773.5" y2="701.03" stroke="#c2c2c2" stroke-width="1.1"/>
<line x1="586.6" y1="695.59" x2="773.5" y2="695.59" stroke="#c2c2c2" stroke-width="1.1"/>
<line x1="586.6" y1="690.79" x2="773.5" y2="690.79" stroke="#c2c2c2" stroke-width="1.1"/>
<line x1="586.6" y1="780.3" x2="773.5" y2="780.3" stroke="#707070" stroke-width="1.3"/>
<line x1="648.9" y1="686.5" x2="648.9" y2="874.2" stroke="#606060" stroke-width="1.3"/>
<line x1="711.3" y1="686.5" x2="711.3" y2="874.2" stroke="#606060" stroke-width="1.3"/>
<rect x="586.6" y="686.5" width="186.9" height="187.7" fill="none" stroke="#666" stroke-width="1.1"/>
<rect x="603.25" y="727.05" width="4.3" height="4.3" fill="#fff" stroke="#222" stroke-width="1"/>
<rect x="623.95" y="761.65" width="4.3" height="4.3" fill="#fff" stroke="#222" stroke-width="1"/>
<rect x="630.75" y="770.55" width="4.3" height="4.3" fill="#fff" stroke="#222" stroke-width="1"/>
<rect x="631.35" y="775.65" width="4.3" height="4.3" fill="#fff" stroke="#222" stroke-width="1"/>
<rect x="648.15" y="758.45" width="4.3" height="4.3" fill="#fff" stroke="#222" stroke-width="1"/>
<rect x="659.65" y="766.15" width="4.3" height="4.3" fill="#fff" stroke="#222" stroke-width="1"/>
<rect x="597.25" y="784.35" width="4.3" height="4.3" fill="#fff" stroke="#222" stroke-width="1"/>
<rect x="616.75" y="782.65" width="4.3" height="4.3" fill="#fff" stroke="#222" stroke-width="1"/>
<rect x="633.95" y="786.85" width="4.3" height="4.3" fill="#fff" stroke="#222" stroke-width="1"/>
<rect x="640.25" y="786.15" width="4.3" height="4.3" fill="#fff" stroke="#222" stroke-width="1"/>
<rect x="637.95" y="789.05" width="4.3" height="4.3" fill="#fff" stroke="#222" stroke-width="1"/>
<rect x="651.95" y="782.65" width="4.3" height="4.3" fill="#fff" stroke="#222" stroke-width="1"/>
<rect x="616.75" y="796.05" width="4.3" height="4.3" fill="#fff" stroke="#222" stroke-width="1"/>
<rect x="643.05" y="799.25" width="4.3" height="4.3" fill="#fff" stroke="#222" stroke-width="1"/>
<rect x="608.15" y="806.05" width="4.3" height="4.3" fill="#fff" stroke="#222" stroke-width="1"/>
<rect x="614.15" y="809.45" width="4.3" height="4.3" fill="#fff" stroke="#222" stroke-width="1"/>
<rect x="625.65" y="806.65" width="4.3" height="4.3" fill="#fff" stroke="#222" stroke-width="1"/>
<rect x="635.85" y="811.35" width="4.3" height="4.3" fill="#fff" stroke="#222" stroke-width="1"/>
<rect x="634.55" y="827.25" width="4.3" height="4.3" fill="#fff" stroke="#222" stroke-width="1"/>
<rect x="634.95" y="830.45" width="4.3" height="4.3" fill="#fff" stroke="#222" stroke-width="1"/>
<rect x="600.35" y="838.15" width="4.3" height="4.3" fill="#fff" stroke="#222" stroke-width="1"/>
<rect x="653.75" y="754.75" width="4.3" height="4.3" fill="#fff" stroke="#222" stroke-width="1"/>
<rect x="672.65" y="718.05" width="4.3" height="4.3" fill="#fff" stroke="#222" stroke-width="1"/>
<rect x="711.35" y="746.55" width="4.3" height="4.3" fill="#fff" stroke="#222" stroke-width="1"/>
<rect x="658.85" y="746.55" width="4.3" height="4.3" fill="#fff" stroke="#222" stroke-width="1"/>
<rect x="658.85" y="750.15" width="4.3" height="4.3" fill="#fff" stroke="#222" stroke-width="1"/>
<rect x="686.85" y="756.55" width="4.3" height="4.3" fill="#fff" stroke="#222" stroke-width="1"/>
<rect x="698.15" y="761.85" width="4.3" height="4.3" fill="#fff" stroke="#222" stroke-width="1"/>
<rect x="696.05" y="764.95" width="4.3" height="4.3" fill="#fff" stroke="#222" stroke-width="1"/>
<rect x="685.35" y="770.05" width="4.3" height="4.3" fill="#fff" stroke="#222" stroke-width="1"/>
<rect x="698.15" y="774.65" width="4.3" height="4.3" fill="#fff" stroke="#222" stroke-width="1"/>
<line x1="614" y1="797.1" x2="707.3" y2="745.7" stroke="#111" stroke-width="1.3"/>
<line x1="599.6" y1="803.2" x2="711.7" y2="749.5" stroke="#111" stroke-width="1.7" stroke-dasharray="3.2 2.4"/>
<circle cx="612.9" cy="780.4" r="2.45" fill="#000"/>
<circle cx="626.9" cy="775.9" r="2.45" fill="#000"/>
<circle cx="631.2" cy="780.6" r="2.45" fill="#000"/>
<circle cx="644.3" cy="781" r="2.45" fill="#000"/>
<circle cx="647.8" cy="769.2" r="2.45" fill="#000"/>
<circle cx="640.5" cy="800.8" r="2.45" fill="#000"/>
<circle cx="630.7" cy="819.9" r="2.45" fill="#000"/>
<circle cx="666.4" cy="760.3" r="2.45" fill="#000"/>
<circle cx="673.6" cy="777.2" r="2.45" fill="#000"/>
<circle cx="707.4" cy="721.7" r="2.45" fill="#000"/>
<circle cx="698.2" cy="734" r="2.45" fill="#000"/>
<circle cx="695.2" cy="738" r="2.45" fill="#000"/>
<circle cx="700.8" cy="739.6" r="2.45" fill="#000"/>
<circle cx="674.3" cy="740.1" r="2.45" fill="#000"/>
<circle cx="698.5" cy="745.9" r="2.45" fill="#000"/>
<circle cx="674.3" cy="754" r="2.45" fill="#000"/>
<circle cx="695.9" cy="756.4" r="2.45" fill="#000"/>
<circle cx="697.7" cy="758.7" r="2.45" fill="#000"/>
<circle cx="692.4" cy="763" r="2.45" fill="#000"/>
<circle cx="688.3" cy="765.8" r="2.45" fill="#000"/>
<circle cx="689" cy="771.1" r="2.45" fill="#000"/>
<circle cx="700.6" cy="769.3" r="2.45" fill="#000"/>
<rect x="663.6" y="839.6" width="109.8" height="34.4" fill="#fff" stroke="#888" stroke-width="1"/>
<circle cx="673" cy="849.9" r="4.5" fill="#000"/>
<text x="682.8" y="852.9" font-size="9.2" textLength="72.4" lengthAdjust="spacingAndGlyphs">Expt 1: Y = 0.05X</text>
<text x="755.4" y="849.6" font-size="7.2" fill="#333" stroke="none">0.37</text>
<rect x="669.3" y="860.2" width="8" height="8.6" fill="#fff" stroke="#222" stroke-width="1.1"/>
<text x="682.8" y="868" font-size="9.2" textLength="72.4" lengthAdjust="spacingAndGlyphs">Expt 2: Y = 0.05X</text>
<text x="755.4" y="864.7" font-size="7.2" fill="#333" stroke="none">0.32</text>
<text x="539" y="682.4" font-size="20.5" font-weight="bold" fill="#000">h</text>
<text x="576.9" y="693.3" font-size="10.2" text-anchor="end">100</text>
<text x="576.9" y="786.4" font-size="10.2" text-anchor="end">10</text>
<text x="576.9" y="880.4" font-size="10.2" text-anchor="end">1</text>
<text x="586.4" y="886.7" font-size="10.2" text-anchor="middle">1</text>
<text x="648.9" y="886.7" font-size="10.2" text-anchor="middle">10</text>
<text x="711.3" y="886.7" font-size="10.2" text-anchor="middle">100</text>
<text x="773.6" y="886.7" font-size="10.2" text-anchor="middle">1000</text>
<text x="555.3" y="784.85" font-size="10" text-anchor="middle" textLength="206.5" lengthAdjust="spacingAndGlyphs" transform="rotate(-90 555.3 784.85)">+RAL per GFP+ cell output as % of No RAL</text>
<text x="640.2" y="902.9" font-size="10" textLength="83.5" lengthAdjust="spacingAndGlyphs">Virions / µL (+RAL)</text>
</svg>
</body></html>
